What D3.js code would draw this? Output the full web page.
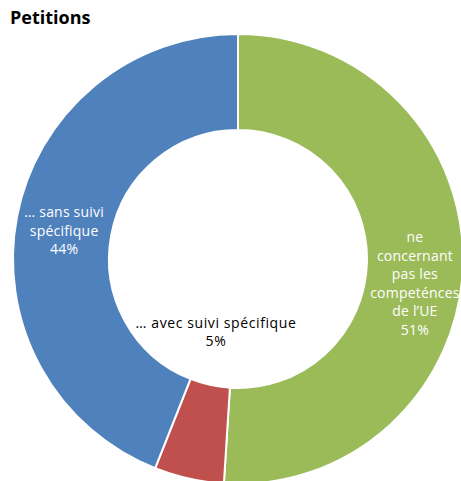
<!DOCTYPE html>
<html>
<head>
<meta charset="utf-8">
<script src="https://cdn.jsdelivr.net/npm/d3@7"></script>
<style>
  html, body { margin: 0; padding: 0; background: #fff; }
  svg { display: block; }
  text { font-family: "Open Sans", "DejaVu Sans", sans-serif; }
</style>
</head>
<body>
<svg id="chart" width="461" height="481"></svg>
<script>
// Petition breakdown (percent shares), drawn clockwise from 12 o'clock
const categories = ["ne concernant pas les competénces de l’UE", "… avec suivi spécifique", "… sans suivi spécifique"];
const shares = [51, 5, 44];
const labelLines = [
  ["ne", "concernant", "pas les", "competénces", "de l’UE"],
  ["… avec suivi spécifique"],
  ["… sans suivi", "spécifique"]
];
const colors = ["#9BBB59", "#C0504D", "#4F81BD"];
const title = "Petitions";

const width = 461, height = 481;
const cx = 238, cy = 259;
const outerR = 225, innerR = 129;
const lineH = 18.5;

const svg = d3.select("#chart");

svg.append("text")
  .attr("x", 10).attr("y", 24)
  .attr("font-size", 18).attr("font-weight", 700)
  .attr("fill", "#000")
  .text(title);

const data = categories.map((c, i) => ({ name: c, value: shares[i], lines: labelLines[i], color: colors[i] }));

const pie = d3.pie().sort(null).value(d => d.value);
const arc = d3.arc().innerRadius(innerR).outerRadius(outerR);
const arcs = pie(data);

const g = svg.append("g").attr("transform", `translate(${cx},${cy})`);

g.selectAll("path")
  .data(arcs)
  .join("path")
  .attr("d", arc)
  .attr("fill", d => d.data.color)
  .attr("stroke", "#fff")
  .attr("stroke-width", 2);

// label anchors: ring centroids for the large slices, inside the hole for the small one
const anchors = arcs.map((a, i) => {
  if (i === 1) return { x: -22, y: 78, fill: "#000", spacing: 0.6 };
  const [x, y] = arc.centroid(a);
  return { x: x, y: y + (i === 0 ? 24 : 10), fill: "#fff", spacing: 0.2 };
});

arcs.forEach((a, i) => {
  const lines = a.data.lines.concat([a.data.value + "%"]);
  const an = anchors[i];
  const top = an.y - (lines.length - 1) * lineH / 2;
  const t = g.append("text")
    .attr("text-anchor", "middle")
    .attr("font-size", 14)
    .attr("letter-spacing", an.spacing)
    .attr("fill", an.fill);
  lines.forEach((ln, k) => {
    t.append("tspan")
      .attr("x", an.x)
      .attr("y", top + k * lineH)
      .text(ln);
  });
});
</script>
</body>
</html>
